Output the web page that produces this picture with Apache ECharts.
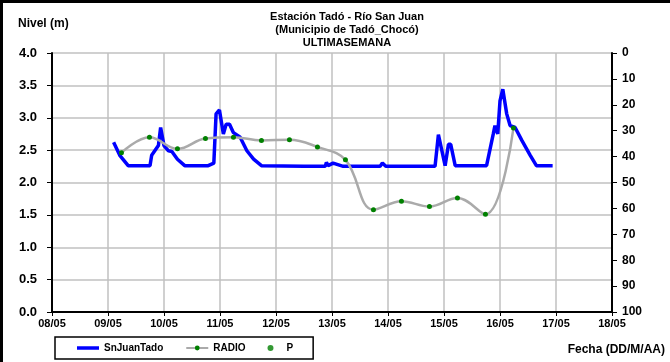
<!DOCTYPE html>
<html>
<head>
<meta charset="utf-8">
<script src="https://cdn.jsdelivr.net/npm/echarts@6/dist/echarts.min.js"></script>
<style>html,body{margin:0;padding:0;background:#fff}#c{width:670px;height:362px}</style>
</head>
<body>
<div id="c"></div>
<script>
// Day-of-May tick labels
var dayTickLabels = ["08/05","09/05","10/05","11/05","12/05","13/05","14/05","15/05","16/05","17/05","18/05"];
var levelTickLabels = ["0.0","0.5","1.0","1.5","2.0","2.5","3.0","3.5","4.0"];
var rainTickLabels = ["0","10","20","30","40","50","60","70","80","90","100"];

// SnJuanTado: time (day of May, fractional) and level (m)
var snJuanTime = [9.10,9.21,9.36,9.75,9.78,9.90,9.94,10.00,10.08,10.14,10.24,10.37,10.79,10.89,10.93,10.99,11.06,11.11,11.17,11.24,11.36,11.48,11.60,11.74,12.50,12.88,12.90,12.93,13.02,13.05,13.20,13.86,13.90,13.96,14.84,14.90,15.02,15.08,15.12,15.20,15.76,15.88,15.91,15.96,16.00,16.05,16.12,16.18,16.27,16.39,16.54,16.65,16.94];
var snJuanLevel = [2.62,2.42,2.26,2.26,2.42,2.57,2.85,2.57,2.49,2.48,2.36,2.26,2.26,2.30,3.06,3.12,2.75,2.90,2.90,2.77,2.70,2.49,2.36,2.26,2.25,2.25,2.31,2.26,2.30,2.28,2.25,2.25,2.30,2.25,2.25,2.74,2.26,2.59,2.59,2.26,2.26,2.75,2.88,2.75,3.26,3.44,3.06,2.88,2.85,2.65,2.42,2.26,2.26];

// RADIO readings
var radioTime = [9.24,9.74,10.24,10.74,11.24,11.74,12.24,12.74,13.24,13.74,14.24,14.74,15.24,15.74,16.24];
var radioLevel = [2.46,2.70,2.52,2.68,2.70,2.65,2.66,2.55,2.35,1.58,1.71,1.63,1.76,1.51,2.84];

// P (no visible points)
var pTime = [];
var pValue = [];

function zip(a,b){var r=[];for(var i=0;i<a.length;i++)r.push([a[i],b[i]]);return r;}

var chart = echarts.init(document.getElementById('c'), null, {renderer:'canvas'});
var FONT = 'Liberation Sans, Arial, sans-serif';
var option = {
  backgroundColor:'#fff',
  animation:false,
  title:{
    text:'Estación Tadó - Río San Juan\n(Municipio de Tadó_Chocó)\nULTIMASEMANA',
    left:342, top:5, textAlign:'center',
    textStyle:{fontFamily:FONT,fontWeight:'bold',fontSize:11,lineHeight:13,color:'#000'}
  },
  legend:{
    left:55, top:337,
    data:[
      {name:'SnJuanTado', icon:'path://M0,0 L22,0 L22,3.5 L0,3.5 Z'},
      {name:'RADIO'},
      {name:'P'}
    ],
    itemWidth:22, itemHeight:6, itemGap:22,
    padding:[6,20,6,22],
    borderColor:'#000', borderWidth:1.5,
    textStyle:{fontFamily:FONT,fontWeight:'bold',fontSize:10,color:'#000'}
  },
  grid:{left:52,right:58,top:53,bottom:50},
  xAxis:{
    type:'value', min:8, max:18, interval:1,
    axisLine:{show:true,onZero:false,lineStyle:{color:'#000',width:2}},
    axisTick:{show:true,length:4,lineStyle:{color:'#000'}},
    axisLabel:{fontFamily:FONT,fontWeight:'bold',fontSize:11,color:'#000',margin:6,
      formatter:function(v){return dayTickLabels[Math.round(v-8)];}},
    splitLine:{show:true,lineStyle:{color:'#c0c0c0',width:1.5}}
  },
  yAxis:[{
    type:'value', min:0, max:4, interval:0.5,
    axisLine:{show:true,lineStyle:{color:'#000',width:2}},
    axisTick:{show:true,length:5,lineStyle:{color:'#000'}},
    axisLabel:{fontFamily:FONT,fontWeight:'bold',fontSize:13,color:'#000',margin:15,
      formatter:function(v){return levelTickLabels[Math.round(v*2)];}},
    splitLine:{show:true,lineStyle:{color:'#c0c0c0',width:1.5}}
  },{
    type:'value', min:0, max:100, interval:10, inverse:true, position:'right',
    axisLine:{show:true,lineStyle:{color:'#000',width:2}},
    axisTick:{show:true,length:5,lineStyle:{color:'#000'}},
    axisLabel:{fontFamily:FONT,fontWeight:'bold',fontSize:12,color:'#000',margin:10,
      formatter:function(v){return rainTickLabels[Math.round(v/10)];}},
    splitLine:{show:false}
  }],
  graphic:[
    {type:'rect',shape:{x:1.5,y:1.5,width:800,height:500},style:{fill:'none',stroke:'#000',lineWidth:3},silent:true},
    {type:'text',left:18,top:18,style:{text:'Nivel (m)',font:'bold 12px '+FONT,fill:'#000'}},
    {type:'text',right:5,top:344,style:{text:'Fecha (DD/M/AA)',font:'bold 12px '+FONT,fill:'#000'}},
    {type:'text',x:681,y:44,rotation:-Math.PI/2,style:{text:'Precipitación (mm)',font:'bold 11px '+FONT,fill:'#000',textAlign:'left',textVerticalAlign:'top'}}
  ],
  series:[{
    name:'SnJuanTado', type:'line', yAxisIndex:0,
    data:zip(snJuanTime,snJuanLevel),
    symbol:'none', showSymbol:false,
    lineStyle:{color:'#0000ff',width:3.5}, itemStyle:{color:'#0000ff'}
  },{
    name:'RADIO', type:'line', yAxisIndex:0,
    data:zip(radioTime,radioLevel),
    smooth:0.4, symbol:'circle', symbolSize:5, showSymbol:true,
    lineStyle:{color:'#aaaaaa',width:2.5}, itemStyle:{color:'#008000'}
  },{
    name:'P', type:'scatter', yAxisIndex:1,
    data:zip(pTime,pValue),
    symbol:'circle', symbolSize:5, itemStyle:{color:'#008000'}
  }]
};
chart.setOption(option);
</script>
</body>
</html>
